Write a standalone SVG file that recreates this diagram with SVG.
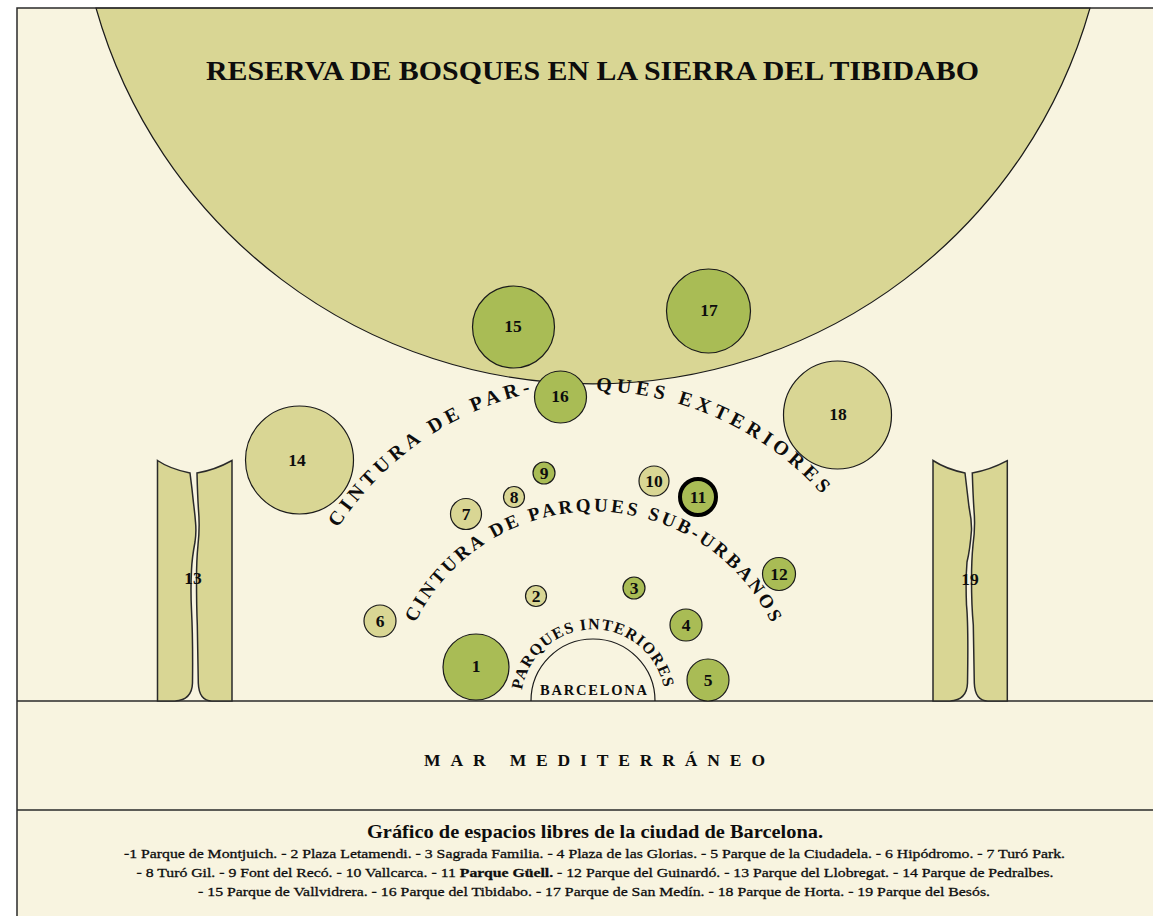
<svg xmlns="http://www.w3.org/2000/svg" width="1153" height="916" viewBox="0 0 1153 916">
<style>
text{font-family:"Liberation Serif",serif;font-weight:700;fill:#0d0d0d}
.g{fill:#a9bc55;stroke:#1a1a1a;stroke-width:1.2}
.k{fill:#d9d694;stroke:#1a1a1a;stroke-width:1.2}
.s{fill:#d9d694;stroke:#2a2a2a;stroke-width:1.5}
.n{text-anchor:middle;font-size:17.5px}
.l{font-size:13.5px;text-anchor:middle;font-weight:400;stroke:#0d0d0d;stroke-width:.3px}
.l tspan{font-weight:700}
.a{font-size:20px;letter-spacing:4.6px}
.r{font-size:20px;letter-spacing:4.6px}
.b{font-size:19px;letter-spacing:3.05px}
.c{font-size:16px;letter-spacing:1.2px}
</style>
<defs>
<path id="p1" d="M338,528 A312,312 0 0 1 540,391"/>
<path id="p2" d="M596,391 A312,312 0 0 1 850,530.500"/>
<path id="p3" d="M415.200,623 A198,198 0 0 1 785,660"/>
<path id="p4" d="M522,690 A72,72 0 1 1 660,728"/>
</defs>
<rect width="1153" height="916" fill="#fff"/>
<rect x="17" y="8" width="1136" height="908" fill="#f8f4e0"/>
<g id="reserva">
<path d="M96,8 A516.5,516.5 0 0 0 1090,8 Z" fill="#d9d694" stroke="#1a1a1a" stroke-width="1.2"/>
<text x="592.500" y="80" font-size="28" text-anchor="middle" textLength="773" lengthAdjust="spacingAndGlyphs">RESERVA DE BOSQUES EN LA SIERRA DEL TIBIDABO</text>
</g>
<g id="frame" fill="none" stroke="#2a2a2a" stroke-width="1.5">
<path d="M17,916 V8 H1153"/>
<path d="M17,701 H1153"/>
<path d="M17,810 H1153"/>
</g>
<g id="n13">
<path class="s" d="M157.500,460.500 Q170,469 190,473 Q192,488 193.500,503 Q195,515 195.500,522 Q196.500,532 195,542 Q192,558 191.500,570 Q190.500,590 191.500,610 Q193,640 192.500,683 Q192,700 175,701 H157.500 Z"/>
<path class="s" d="M197,473 Q197.500,495 198.500,510 Q200,527 198,545 Q196.500,560 196.500,580 Q196.500,605 197.300,625 L198.300,683 Q199,701 212,701 H232 V460.500 Q215,470 197,473 Z"/>
<text class="n" x="193" y="584">13</text>
</g>
<g id="n19">
<path class="s" d="M933,460.500 Q946,469 965,473 Q967,490 969,507 Q971.700,520 971.500,530 Q970,550 967,562 Q965.500,580 966.500,605 Q968.500,625 967.500,683 Q967,700 950,701 H933 Z"/>
<path class="s" d="M972.300,473 Q973,495 974,510 Q975.500,527 973,545 Q971.500,560 971.500,580 Q971.500,605 973.300,625 L974.300,683 Q975,701 988,701 H1007.300 V460.700 Q990,470 972.300,473 Z"/>
<text class="n" x="970" y="585">19</text>
</g>
<g id="barcelona">
<path d="M531,701 A62,62 0 0 1 655,701" fill="none" stroke="#1a1a1a" stroke-width="1.2"/>
<text x="593.500" y="695" text-anchor="middle" font-size="14.500" textLength="107" lengthAdjust="spacing">BARCELONA</text>
</g>
<g id="labels">
<text class="a"><textPath href="#p1">CINTURA DE PAR-</textPath></text>
<text class="r"><textPath href="#p2">QUES EXTERIORES</textPath></text>
<text class="b"><textPath href="#p3">CINTURA DE PARQUES SUB-URBANOS</textPath></text>
<text class="c"><textPath href="#p4">PARQUES INTERIORES</textPath></text>
<text x="424" y="766" font-size="17.500" textLength="341" lengthAdjust="spacing">MAR MEDITERRÁNEO</text>
</g>
<g id="n1"><circle class="g" cx="476" cy="667" r="33"/><text class="n" x="476" y="672">1</text></g>
<g id="n2"><circle class="k" cx="536" cy="596" r="10.500"/><text class="n" x="536" y="602">2</text></g>
<g id="n3"><circle class="g" cx="634" cy="588" r="11"/><text class="n" x="634" y="594">3</text></g>
<g id="n4"><circle class="g" cx="686" cy="625" r="16"/><text class="n" x="686" y="631">4</text></g>
<g id="n5"><circle class="g" cx="708" cy="680" r="21"/><text class="n" x="708" y="686">5</text></g>
<g id="n6"><circle class="k" cx="380" cy="621" r="16"/><text class="n" x="380" y="627">6</text></g>
<g id="n7"><circle class="k" cx="466" cy="514" r="15.500"/><text class="n" x="466" y="520">7</text></g>
<g id="n8"><circle class="k" cx="514" cy="497" r="10.500"/><text class="n" x="514" y="503">8</text></g>
<g id="n9"><circle class="g" cx="544" cy="473" r="11"/><text class="n" x="544" y="479">9</text></g>
<g id="n10"><circle class="k" cx="654" cy="481" r="15"/><text class="n" x="654" y="487">10</text></g>
<g id="n11"><circle class="g" style="stroke-width:4;stroke:#000" cx="698" cy="497" r="18"/><text class="n" x="698" y="503">11</text></g>
<g id="n12"><circle class="g" cx="779" cy="574" r="16.500"/><text class="n" x="779" y="580">12</text></g>
<g id="n14"><circle class="k" cx="299.500" cy="460" r="54"/><text class="n" x="297" y="466">14</text></g>
<g id="n15"><circle class="g" cx="513.500" cy="327" r="41"/><text class="n" x="513" y="332">15</text></g>
<g id="n16"><circle class="g" cx="560.500" cy="397" r="26"/><text class="n" x="560" y="402">16</text></g>
<g id="n17"><circle class="g" cx="708.500" cy="311" r="42"/><text class="n" x="709" y="316">17</text></g>
<g id="n18"><circle class="k" cx="837.500" cy="415" r="54"/><text class="n" x="838" y="420">18</text></g>
<g id="legend">
<text x="595" y="838" font-size="19" text-anchor="middle" textLength="456" lengthAdjust="spacingAndGlyphs">Gráfico de espacios libres de la ciudad de Barcelona.</text>
<text class="l" x="594.500" y="858" textLength="941" lengthAdjust="spacingAndGlyphs">-1 Parque de Montjuich. - 2 Plaza Letamendi. - 3 Sagrada Familia. - 4 Plaza de las Glorias. - 5 Parque de la Ciudadela. - 6 Hipódromo. - 7 Turó Park.</text>
<text class="l" x="595" y="877" textLength="917" lengthAdjust="spacingAndGlyphs">- 8 Turó Gil. - 9  Font del Recó. - 10 Vallcarca. - 11 <tspan>Parque Güell.</tspan> - 12 Parque del Guinardó. - 13 Parque del Llobregat. - 14 Parque de Pedralbes.</text>
<text class="l" x="594" y="896" textLength="792" lengthAdjust="spacingAndGlyphs">- 15 Parque de Vallvidrera. - 16 Parque del Tibidabo. - 17 Parque de San Medín. - 18 Parque de Horta. - 19 Parque del Besós.</text>
</g>
</svg>
